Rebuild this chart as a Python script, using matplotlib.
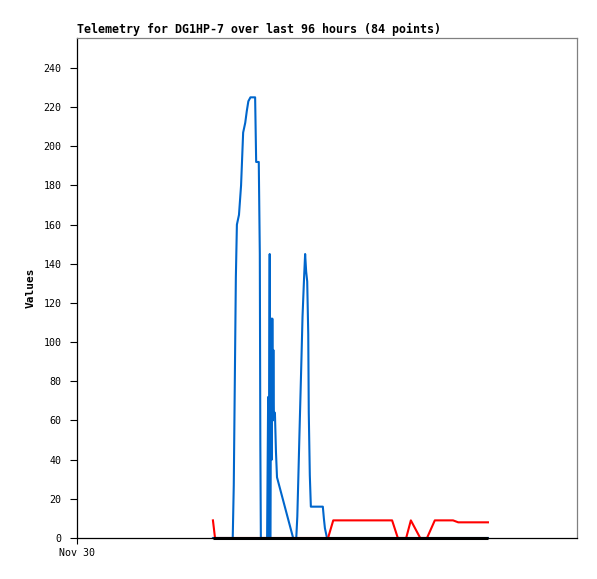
import matplotlib
matplotlib.use("Agg")
import matplotlib.pyplot as plt

# ─── DATA (hours since Nov 30 00:00) ─────────────────────────────────────────
blue_t = [26.1, 29.9, 30.1, 30.3, 30.5, 30.7, 31.1, 31.5, 31.9, 32.3, 32.6, 32.9,
          33.3, 34.2, 34.4, 34.9, 35.1, 35.2, 35.3, 36.5, 36.7, 36.8, 37.0, 37.1,
          37.3, 37.4, 37.5, 37.6, 37.7, 37.8, 38.0, 38.2, 38.4, 41.5, 42.1, 42.3,
          42.5, 42.7, 42.9, 43.1, 43.3, 43.6, 43.8, 44.0, 44.2, 44.4, 44.5, 44.7,
          44.9, 47.2, 47.4, 47.6, 48.0, 78.9]
blue_v = [0, 0, 27, 80, 133, 160, 165, 180, 207, 212, 218, 223,
          225, 225, 192, 192, 145, 48, 0, 0, 72, 0, 145, 0,
          112, 40, 112, 60, 96, 64, 64, 44, 31, 0, 0, 11,
          31, 52, 72, 92, 113, 133, 145, 136, 131, 104, 64, 32,
          16, 16, 10, 5, 0, 0]

red_t = [26.1, 26.5, 48.2, 49.2, 60.5, 61.6, 63.2, 64.1, 65.9, 67.2, 68.7, 72.2, 73.2, 78.9]
red_v = [9, 0, 0, 9, 9, 0, 0, 9, 0, 0, 9, 9, 8, 8]

black_t = [26.1, 78.9]
black_v = [0, 0]

title = "Telemetry for DG1HP-7 over last 96 hours (84 points)"
y_ticks = list(range(0, 241, 20))
x_ticks = [0]
x_labels = ["Nov 30"]

# ─── PLOT ────────────────────────────────────────────────────────────────────
W, H = 597, 579
fig = plt.figure(figsize=(W / 100, H / 100), dpi=100)
ax = fig.add_axes([77 / W, 1 - 538 / H, 500 / W, 500 / H])

ax.plot(blue_t, blue_v, color="#0066CC", lw=1.5, clip_on=False, zorder=2)
ax.plot(red_t, red_v, color="#FF0000", lw=1.5, clip_on=False, zorder=3)
ax.plot(black_t, black_v, color="black", lw=2.2, clip_on=False, zorder=4,
        solid_capstyle="butt")

ax.set_xlim(0, 96)
ax.set_ylim(0, 255.3)

mono = "DejaVu Sans Mono"
ax.set_yticks(y_ticks)
ax.set_yticklabels([str(v) for v in y_ticks], family=mono, fontsize=7.2)
ax.set_xticks(x_ticks)
ax.set_xticklabels(x_labels, family=mono, fontsize=7.2)
ax.tick_params(axis="y", direction="out", length=5, width=0.8, pad=6)
ax.tick_params(axis="x", direction="out", length=4.5, width=0.8, pad=3)

for side in ("left", "bottom"):
    ax.spines[side].set_color("black")
    ax.spines[side].set_linewidth(0.9)
for side in ("top", "right"):
    ax.spines[side].set_color("#808080")
    ax.spines[side].set_linewidth(0.9)

fig.text(77 / W, 1 - 36 / H, title, family=mono, fontweight="bold",
         fontsize=8.4, ha="left", va="bottom")
fig.text(31 / W, 1 - 288 / H, "Values", family=mono, fontweight="bold",
         fontsize=8, rotation=90, ha="center", va="center")

fig.savefig("out.png", dpi=100)
